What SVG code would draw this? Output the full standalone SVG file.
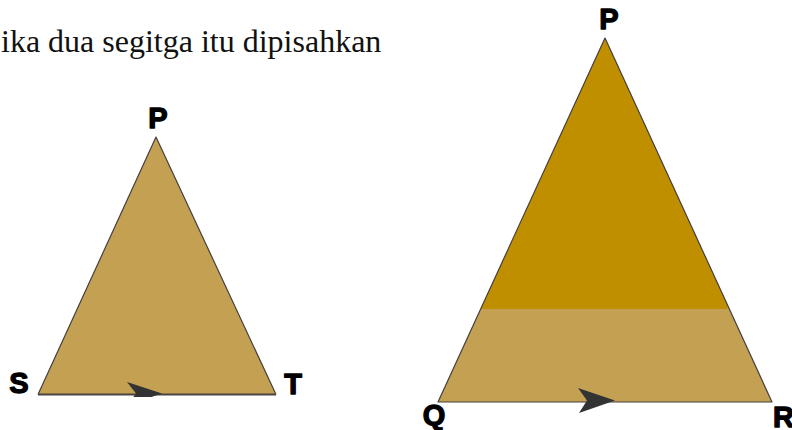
<svg xmlns="http://www.w3.org/2000/svg" width="792" height="430" viewBox="0 0 792 430">
<style>
.cap{font-family:"Times New Roman","Liberation Serif",serif;font-size:32px;fill:#111}
.lbl{font-family:"Arial Black","Liberation Sans",Arial,sans-serif;font-weight:bold;font-size:29px;fill:#000;stroke:#000;stroke-width:1.3;stroke-linejoin:round}
.edge{stroke:#454040;stroke-width:1.2;fill:none;stroke-linejoin:round}
.light{fill:#C3A052}
.dark{fill:#BF8F00}
.arrow{fill:#333333}
</style>
<defs>
<clipPath id="clipSmall"><rect x="0" y="0" width="400" height="397"/></clipPath>
</defs>
<rect width="792" height="430" fill="#ffffff"/>
<text class="cap" x="1" y="52">ika dua segitga itu dipisahkan</text>
<g id="triangle-PST">
<polygon class="light" points="156,137 38,394.5 276,394.5"/>
<polyline class="edge" points="38,394.5 156,137 276,394.5"/>
<line x1="38" y1="394.5" x2="276" y2="394.5" stroke="#4a4540" stroke-width="2"/>
<text class="lbl" x="158" y="128" text-anchor="middle">P</text>
<text class="lbl" x="19" y="393" text-anchor="middle">S</text>
<text class="lbl" x="293" y="394" text-anchor="middle">T</text>
</g>
<g id="triangle-PQR">
<polygon class="light" points="605,38 438,402 772,402"/>
<polygon class="dark" points="605,38 480.7,309 727,309 728,306"/>
<polygon class="edge" points="605,38 438,402 772,402"/>
<text class="lbl" x="609" y="29" text-anchor="middle">P</text>
<text class="lbl" x="434" y="425" text-anchor="middle">Q</text>
<text class="lbl" x="773" y="427">R</text>
</g>
<g id="connectors">
<path class="arrow" clip-path="url(#clipSmall)" d="M162,393.5 L127,382 L136,393.5 L127,405 Z"/>
<path class="arrow" d="M615,400.5 L578,388 L587,400.5 L579,413 Z"/>
</g>
</svg>
